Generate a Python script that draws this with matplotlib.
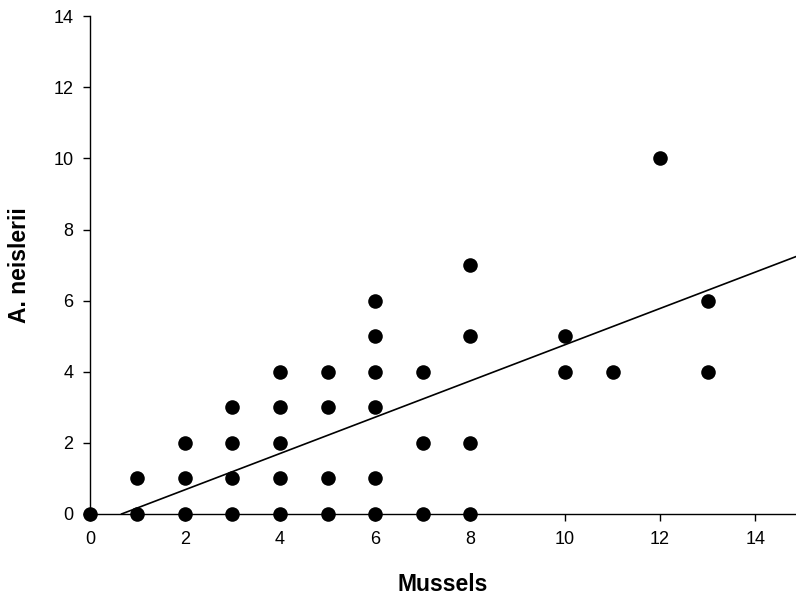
import numpy as np
import matplotlib.pyplot as plt

plt.rcParams['font.family'] = ['Liberation Sans', 'DejaVu Sans']

# Counts per sample: mussels (x) vs A. neislerii (y)
mussels = [0,
           1, 1,
           2, 2, 2,
           3, 3, 3, 3,
           4, 4, 4, 4, 4,
           5, 5, 5, 5,
           6, 6, 6, 6, 6, 6,
           7, 7, 7,
           8, 8, 8, 8,
           10, 10,
           11,
           12,
           13, 13]
neislerii = [0,
             0, 1,
             0, 1, 2,
             0, 1, 2, 3,
             0, 1, 2, 3, 4,
             0, 1, 3, 4,
             0, 1, 3, 4, 5, 6,
             0, 2, 4,
             0, 2, 5, 7,
             4, 5,
             4,
             10,
             4, 6]

# Least-squares line
slope = 0.51
intercept = -0.34

xmax = 14.86
fig = plt.figure(figsize=(7.96, 5.99), dpi=100)
ax = fig.add_axes([0.113, 0.142, 1.0 - 0.113, 0.973 - 0.142])

ax.scatter(mussels, neislerii, s=110, c='black', zorder=3, clip_on=False,
           linewidths=0)

x0 = -intercept / slope
xl = np.array([x0, xmax])
ax.plot(xl, slope * xl + intercept, color='black', lw=1.2, zorder=2)

ax.set_xlim(0, xmax)
ax.set_ylim(0, 14)
ax.set_xticks(np.arange(0, 15, 2))
ax.set_yticks(np.arange(0, 15, 2))
ax.spines['top'].set_visible(False)
ax.spines['right'].set_visible(False)
for s in ('left', 'bottom'):
    ax.spines[s].set_linewidth(1.0)
ax.tick_params(direction='out', length=5, width=1.0, labelsize=13, pad=7)

ax.set_xlabel('Mussels', fontsize=16.5, fontweight='bold', labelpad=18)
ax.set_ylabel('A. neislerii', fontsize=16.5, fontweight='bold', labelpad=16)

fig.savefig('out.png', dpi=100)
